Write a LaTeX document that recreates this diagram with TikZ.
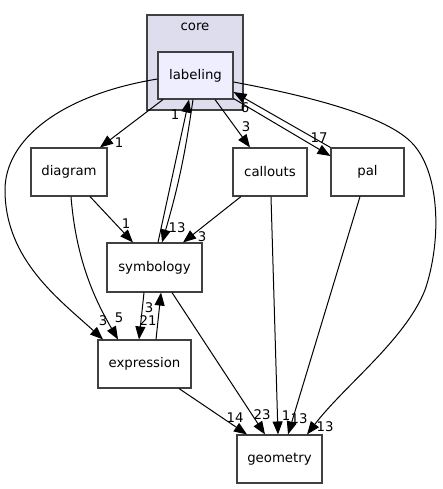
\documentclass[tikz,border=0pt]{standalone}
\usepackage{fontspec}
\setmainfont{DejaVu Sans}
\usetikzlibrary{arrows.meta}
\definecolor{clfill}{HTML}{DDDDEE}
\definecolor{labfill}{HTML}{EEEEFF}
\definecolor{bord}{HTML}{404040}
\begin{document}
\begin{tikzpicture}[x=1pt,y=-1pt,
  box/.style={draw=bord, line width=1.1pt, fill=white, minimum width=#1, minimum height=48pt, inner sep=0pt, font=\fontsize{13.3}{16}\selectfont},
  edge/.style={draw=black, line width=1pt, -{Triangle[length=13pt,width=10pt]}},
  lbl/.style={font=\fontsize{13.3}{16}\selectfont, inner sep=0pt}]
\useasboundingbox (0,0) rectangle (442,489);
\node[fill=clfill, draw=bord, line width=1.1pt, minimum width=96pt, minimum height=95pt, inner sep=0pt] (core) at (195,62.5) {};
\node[lbl] (corelabel) at (195,27) {core};
\node[box=75pt, fill=labfill, minimum height=47pt] (labeling) at (195.5,75.5) {labeling};
\node[box=76pt] (diagram) at (69,172) {diagram};
\node[box=74pt] (callouts) at (270,172) {callouts};
\node[box=73pt] (pal) at (367.5,172) {pal};
\node[box=95pt, minimum height=49pt] (symbology) at (154.5,267.5) {symbology};
\node[box=93pt] (expression) at (144.5,364) {expression};
\node[box=85pt] (geometry) at (279.5,459) {geometry};

\draw[edge] ([xshift=-32.5pt]labeling.south) -- ([xshift=31pt]diagram.north);
\draw[edge] ([xshift=19.5pt]labeling.south) -- ([xshift=-20pt]callouts.north);
\draw[edge] ([yshift=1pt]labeling.south east) -- ([yshift=16pt]pal.west);
\draw[edge] (pal.north west) -- ([yshift=-16.5pt]labeling.east);
\draw[edge] ([xshift=-2.5pt]labeling.south) to[bend left=4] ([xshift=7.5pt]symbology.north);
\draw[edge] ([xshift=3.5pt]symbology.north) -- ([xshift=-6.5pt]labeling.south);
\draw[edge] ([yshift=-3.5pt]labeling.west) .. controls (60,95) and (5,140) .. (5,190) .. controls (5,260) and (60,300) .. ([xshift=-41.5pt]expression.north);
\draw[edge] ([yshift=-6.5pt]labeling.east) .. controls (330,100) and (390,120) .. (412,143) .. controls (440,172) and (442,240) .. (425,290) .. controls (405,340) and (345,385) .. ([xshift=27.5pt]geometry.north);
\draw[edge] ([xshift=21pt]diagram.south) -- ([xshift=-21.5pt]symbology.north);
\draw[edge] ([xshift=2pt]diagram.south) .. controls (76,260) and (95,300) .. ([xshift=-26.5pt]expression.north);
\draw[edge] ([xshift=-29pt]callouts.south) -- ([xshift=28.5pt]symbology.north);
\draw[edge] ([xshift=1pt]callouts.south) -- ([xshift=-1.5pt]geometry.north);
\draw[edge] ([xshift=-7.5pt]pal.south) -- ([xshift=8.5pt]geometry.north);
\draw[edge] ([xshift=-10.5pt]symbology.south) -- ([xshift=-5.5pt]expression.north);
\draw[edge] ([xshift=11.5pt]expression.north) -- ([xshift=6.5pt]symbology.south);
\draw[edge] ([xshift=17.5pt]symbology.south) -- ([xshift=-14.5pt]geometry.north);
\draw[edge] ([xshift=34.5pt]expression.south) -- ([xshift=-32.5pt]geometry.north);

\node[lbl] (la) at (119,143) {1};
\node[lbl] (lb) at (246,127) {3};
\node[lbl] (lc) at (319,138) {17};
\node[lbl] (ld) at (245,108) {6};
\node[lbl] (le) at (177,228) {13};
\node[lbl] (lf) at (175,115) {1};
\node[lbl] (lg) at (103,321) {3};
\node[lbl] (lh) at (325,427) {13};
\node[lbl] (li) at (126,224) {1};
\node[lbl] (lj) at (119,318) {5};
\node[lbl] (lk) at (202,237) {3};
\node[lbl] (ll) at (286,416) {1};
\node[lbl] (lm) at (299,419) {13};
\node[lbl] (ln) at (148,321) {21};
\node[lbl] (lo) at (149,308) {3};
\node[lbl] (lp) at (262,415) {23};
\node[lbl] (lq) at (235,418) {14};
\end{tikzpicture}
\end{document}
